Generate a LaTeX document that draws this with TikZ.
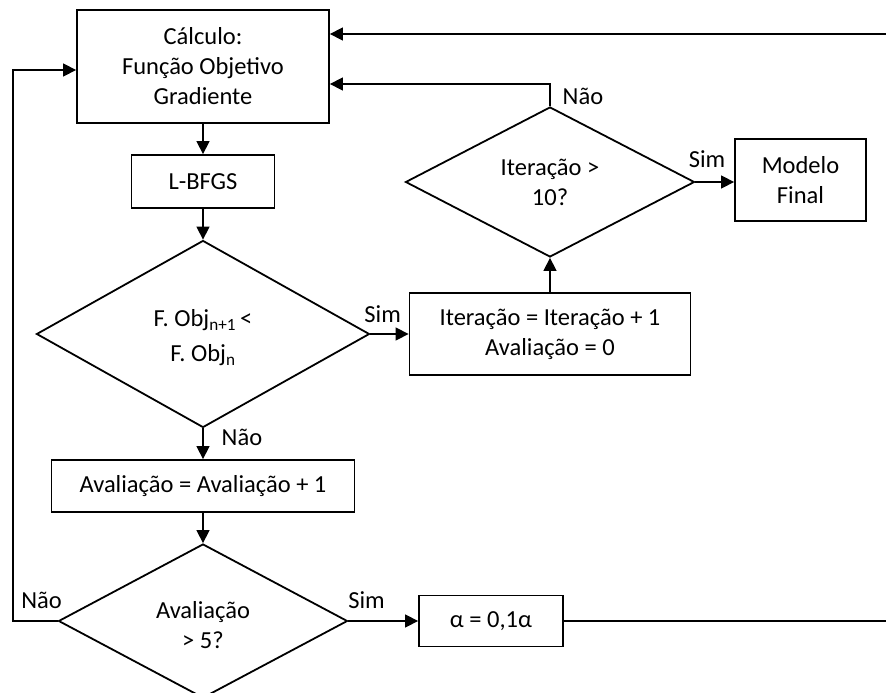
\documentclass[tikz,border=0pt]{standalone}
\usepackage{fontspec}
\setmainfont{Carlito}
\usepackage{tikz}
\usetikzlibrary{arrows.meta}
\usetikzlibrary{shapes.geometric}

\tikzset{
  block/.style={draw, line width=1.8pt, inner sep=0pt, align=center},
  decision/.style={draw, diamond, line width=1.8pt, inner sep=0pt, align=center},
  flow/.style={line width=1.4pt, -{Triangle[length=13pt,width=13pt]}},
  link/.style={line width=1.4pt},
  tag/.style={inner sep=0pt}
}

\begin{document}
\begin{tikzpicture}[x=1pt, y=-1pt, font=\fontsize{24.5}{30}\selectfont]

\useasboundingbox (0,0) rectangle (886,693);

% boxes
\node[block, minimum width=252pt, minimum height=113pt] (calc) at (203,66.5) {C\'alculo:\\Fun\c{c}\~ao Objetivo\\Gradiente};
\node[block, minimum width=143pt, minimum height=53pt] (lbfgs) at (203,181.5) {L-BFGS};
\node[decision, minimum width=333pt, minimum height=187pt] (dec1) at (203,334) {\rule{0pt}{24pt}F. Obj\textsubscript{n+1}\,<\\[5pt]F. Obj\textsubscript{n}};
\node[block, minimum width=281pt, minimum height=82pt] (iter) at (550,334) {Itera\c{c}\~ao = Itera\c{c}\~ao + 1\\Avalia\c{c}\~ao = 0};
\node[decision, minimum width=289pt, minimum height=150pt] (dec2) at (550,182) {Itera\c{c}\~ao >\\10?};
\node[block, minimum width=131pt, minimum height=82pt] (final) at (800.5,180) {Modelo\\Final};
\node[block, minimum width=303pt, minimum height=52pt] (aval) at (203,486) {Avalia\c{c}\~ao = Avalia\c{c}\~ao + 1};
\node[decision, minimum width=289pt, minimum height=154pt] (dec3) at (203,621) {\rule{0pt}{26pt}Avalia\c{c}\~ao\\> 5?};
\node[block, minimum width=144pt, minimum height=51pt] (alpha) at (491,621) {α = 0,1α};

% free ends
\coordinate (rtop) at (886,34);
\coordinate (rbot) at (886,621);
\coordinate (lloop) at (13,621);

% connectors
\draw[flow] (rtop) -- (calc.east |- rtop);
\draw[flow] (calc.south) -- (lbfgs.north);
\draw[flow] (lbfgs.south) -- (dec1.north);
\draw[flow] (dec1.east) -- node[tag, above=11pt, pos=0.32] {Sim} (iter.west);
\draw[flow] (iter.north) -- (dec2.south);
\draw[flow] (dec2.east) -- node[tag, above=14pt, pos=0.3] {Sim} (dec2.east -| final.west);
\draw[flow] (dec2.north) -- node[tag, right=12pt, pos=0.45] {N\~ao} (dec2.north |- {0,84}) -- ([yshift=-17.5pt]calc.east);
\draw[flow] (dec1.south) -- node[tag, right=18pt, pos=0.3] {N\~ao} (aval.north);
\draw[flow] (aval.south) -- (dec3.north);
\draw[flow] (dec3.east) -- node[tag, above=12pt, pos=0.26] {Sim} (alpha.west);
\draw[link] (alpha.east) -- (rbot);
\draw[flow] (dec3.west) -- node[tag, above=12pt, pos=0.36] {N\~ao} (lloop) |- ([yshift=-3.5pt]calc.west);

\end{tikzpicture}
\end{document}
